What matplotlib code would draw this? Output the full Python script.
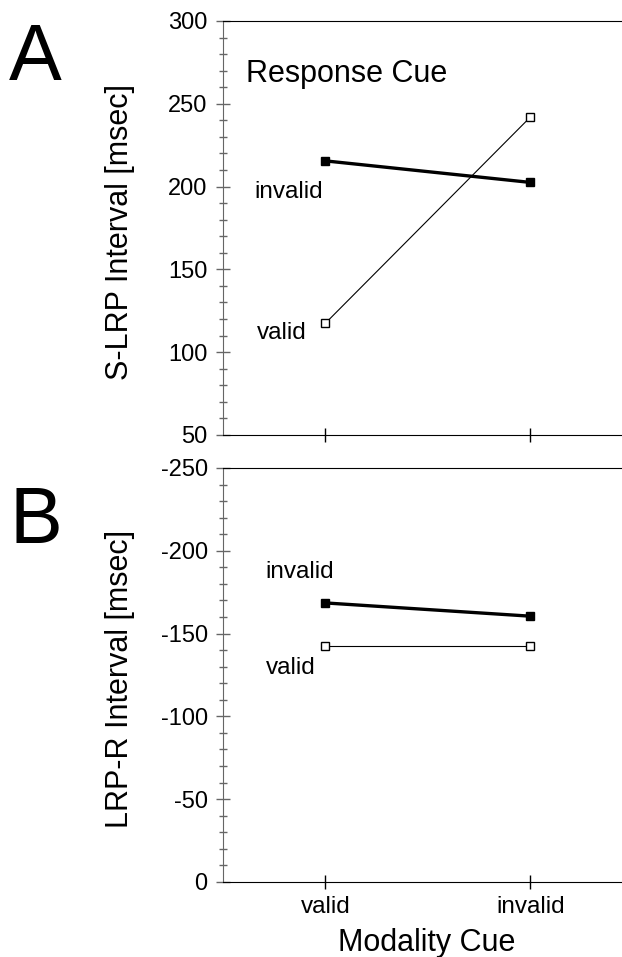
import matplotlib.pyplot as plt
from matplotlib.ticker import MultipleLocator

plt.rcParams['font.family'] = ['Liberation Sans', 'DejaVu Sans']
plt.rcParams['axes.unicode_minus'] = False

# modality cue conditions on the x axis
modality = ['valid', 'invalid']

# panel A: S-LRP interval (msec) per response cue
slrp_invalid = [215.5, 202.5]
slrp_valid = [117.5, 242]

# panel B: LRP-R interval (msec) per response cue
lrpr_invalid = [-168.5, -160.5]
lrpr_valid = [-142.5, -142.5]


def style_axis(ax, ylim, ylabel):
    ax.set_xlim(-0.5, 1.5)
    ax.set_ylim(*ylim)
    ax.spines['right'].set_visible(False)
    ax.spines['left'].set_color('#666666')
    ax.yaxis.set_major_locator(MultipleLocator(50))
    ax.yaxis.set_minor_locator(MultipleLocator(10))
    ax.tick_params(axis='y', which='major', direction='inout', length=10,
                   width=1, color='#666666', labelsize=17, pad=6)
    ax.tick_params(axis='y', which='minor', direction='inout', length=6,
                   width=1, color='#666666')
    ax.set_xticks(range(len(modality)))
    ax.tick_params(axis='x', which='major', direction='inout', length=10,
                   width=1, labelsize=17.5, pad=5)
    ax.set_ylabel(ylabel, fontsize=22)
    ax.yaxis.set_label_coords(-0.215, 0.49)


def draw_lines(ax, invalid, valid):
    x = range(len(modality))
    ax.plot(x, invalid, color='black', lw=2.4, marker='s', ms=6,
            mfc='black', mec='black', clip_on=False)
    ax.plot(x, valid, color='black', lw=0.8, marker='s', ms=6,
            mfc='white', mec='black', mew=1, clip_on=False)


fig = plt.figure(figsize=(6.22, 9.57), dpi=100)
axA = fig.add_axes([0.3585, 0.5455, 0.659, 0.4326])
axB = fig.add_axes([0.3585, 0.0784, 0.659, 0.4326])

# panel A
draw_lines(axA, slrp_invalid, slrp_valid)
style_axis(axA, (50, 300), 'S-LRP Interval [msec]')
axA.set_xticklabels([])
axA.text(-0.39, 268, 'Response Cue', fontsize=22, va='center', ha='left')
axA.text(-0.01, 196.5, 'invalid', fontsize=17.5, va='center', ha='right')
axA.text(-0.09, 111.5, 'valid', fontsize=17.5, va='center', ha='right')

# panel B, inverted so more negative values sit higher
draw_lines(axB, lrpr_invalid, lrpr_valid)
style_axis(axB, (0, -250), 'LRP-R Interval [msec]')
axB.set_xticklabels(modality)
axB.set_xlabel('Modality Cue', fontsize=22)
axB.xaxis.set_label_coords(0.496, -0.112)
axB.text(-0.295, -187, 'invalid', fontsize=17.5, va='center', ha='left')
axB.text(-0.29, -129.5, 'valid', fontsize=17.5, va='center', ha='left')

# panel letters
fig.text(0.0145, 0.9164, 'A', fontsize=57, ha='left', va='baseline')
fig.text(0.0145, 0.4326, 'B', fontsize=57, ha='left', va='baseline')

fig.savefig('out.png', dpi=100)
